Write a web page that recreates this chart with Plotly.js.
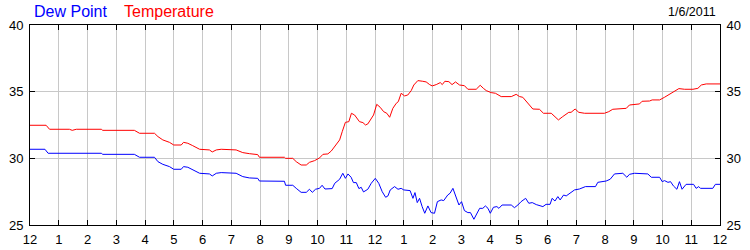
<!DOCTYPE html>
<html>
<head>
<meta charset="utf-8">
<script src="https://cdn.plot.ly/plotly-3.0.1.min.js"></script>
<style>
html,body{margin:0;padding:0;background:#fff;}
#chart{width:750px;height:250px;}
</style>
</head>
<body>
<div id="chart"></div>
<script>
// Hours after midnight, 1/6/2011
var tempHours = [0,0.56,0.68,1.37,1.47,1.61,2.48,2.53,3.63,3.81,4.33,4.45,4.62,4.85,5.00,5.26,5.34,5.49,5.66,5.90,6.24,6.34,6.48,6.65,7.17,7.40,7.63,7.92,7.98,
  8.85,8.89,9.14,9.26,9.43,9.61,9.72,9.90,10.07,10.19,10.36,10.48,10.63,10.77,10.86,10.97,11.09,11.18,11.29,11.46,11.58,11.67,11.75,11.87,11.95,
  12.06,12.18,12.30,12.41,12.51,12.62,12.74,12.81,12.91,13.03,13.14,13.26,13.35,13.49,13.66,13.78,13.90,13.99,14.13,14.27,14.34,14.43,14.57,14.68,
  14.80,14.94,15.11,15.23,15.52,15.66,15.77,15.87,16.04,16.19,16.39,16.74,16.91,17.03,17.14,17.32,17.49,17.72,17.86,18.13,18.24,18.38,18.53,18.74,
  18.82,18.96,19.09,19.29,19.98,20.13,20.27,20.74,20.85,21.03,21.20,21.29,21.55,21.64,21.90,22.07,22.30,22.42,22.57,22.77,23.06,23.23,23.35,23.52,24.0];
var tempValues = [32.48,32.48,32.18,32.18,32.1,32.18,32.18,32.1,32.1,31.88,31.88,31.63,31.38,31.2,31.0,31.0,31.2,31.13,30.95,30.68,30.63,30.48,30.63,30.68,30.63,30.43,30.35,30.28,30.08,
  30.08,30.0,30.0,29.75,29.5,29.5,29.7,29.83,30.03,30.3,30.33,30.55,31.0,31.38,32.0,32.7,32.75,33.38,33.25,32.75,32.68,32.5,32.58,33.0,33.25,
  34.05,33.83,33.5,33.38,33.08,33.75,34.13,34.25,34.88,34.68,34.75,35.08,35.5,35.83,35.78,35.73,35.53,35.43,35.53,35.68,35.53,35.78,35.75,35.53,
  35.73,35.5,35.45,35.18,35.18,35.48,35.25,35.08,34.93,34.88,34.63,34.63,34.8,34.63,34.58,34.13,33.7,33.68,33.38,33.38,33.13,32.88,33.13,33.45,
  33.45,33.7,33.45,33.38,33.38,33.5,33.68,33.75,34.0,34.05,34.08,34.28,34.3,34.38,34.38,34.58,34.88,35.05,35.23,35.18,35.18,35.25,35.5,35.58,35.58];

var dewHours = [0,0.52,0.63,1.37,1.47,1.61,2.48,2.53,3.63,3.81,4.33,4.45,4.62,4.85,5.00,5.26,5.34,5.49,5.66,5.90,6.24,6.34,6.48,6.65,7.17,7.40,7.63,7.92,7.98,
  8.85,8.89,9.14,9.26,9.43,9.61,9.72,9.82,9.93,10.07,10.16,10.26,10.42,10.51,10.60,10.77,10.88,10.97,11.06,11.17,11.25,11.35,11.44,11.52,11.60,11.75,11.87,
  12.01,12.13,12.25,12.37,12.45,12.53,12.68,12.80,12.91,13.00,13.14,13.22,13.32,13.39,13.47,13.55,13.64,13.73,13.84,13.95,14.07,14.17,14.30,14.39,
  14.53,14.61,14.71,14.82,14.92,15.01,15.11,15.23,15.32,15.44,15.55,15.64,15.75,15.84,15.93,16.01,16.12,16.24,16.31,16.42,16.74,16.85,16.97,17.08,
  17.24,17.35,17.47,17.61,17.84,17.95,18.09,18.16,18.26,18.36,18.44,18.56,18.65,18.77,18.94,19.11,19.32,19.67,19.75,20.04,20.18,20.33,20.62,20.76,
  20.85,21.03,21.32,21.49,21.61,21.90,21.99,22.07,22.19,22.28,22.38,22.50,22.59,22.68,22.82,23.08,23.17,23.26,23.32,23.75,23.84,24.0];
var dewValues = [30.68,30.68,30.38,30.38,30.33,30.38,30.38,30.3,30.3,30.08,30.08,29.75,29.55,29.38,29.18,29.18,29.38,29.33,29.13,28.88,28.83,28.68,28.88,28.93,28.88,28.63,28.53,28.5,28.3,
  28.28,27.98,27.98,27.75,27.45,27.45,27.68,27.45,27.68,27.75,27.98,27.7,27.75,27.73,28.13,28.43,28.88,28.5,28.83,28.58,28.18,28.18,27.73,27.83,27.48,27.68,28.13,
  28.5,28.13,27.5,27.08,27.18,27.63,27.88,27.68,27.75,27.63,27.63,27.58,27.0,27.43,26.68,27.0,26.38,25.88,26.43,25.93,25.88,26.75,26.88,26.83,
  27.25,27.38,27.75,27.13,26.5,26.75,26.08,25.93,25.93,25.43,25.83,26.25,26.25,26.43,26.25,25.88,26.33,26.38,26.25,26.5,26.5,26.3,26.5,26.75,
  27.0,26.63,26.68,26.53,26.38,26.55,26.55,27.0,26.8,27.13,26.88,27.25,27.18,27.38,27.63,27.7,27.88,27.88,28.2,28.3,28.43,28.83,28.88,28.58,
  28.8,28.88,28.83,28.83,28.58,28.58,28.25,28.33,28.2,28.25,27.93,27.68,28.25,27.68,28.05,28.05,27.75,27.88,27.75,27.75,28.05,28.05];

var hourTicks = [0,1,2,3,4,5,6,7,8,9,10,11,12,13,14,15,16,17,18,19,20,21,22,23,24];
var hourLabels = ['12','1','2','3','4','5','6','7','8','9','10','11','12','1','2','3','4','5','6','7','8','9','10','11','12'];
var yTicks = [25,30,35,40];
var dateLabel = '1/6/2011';

var FONT = 'Arial, "Liberation Sans", sans-serif';

var traces = [
  {x: dewHours, y: dewValues, type: 'scatter', mode: 'lines', name: 'Dew Point',
   line: {color: '#0000ff', width: 1}, hoverinfo: 'skip'},
  {x: tempHours, y: tempValues, type: 'scatter', mode: 'lines', name: 'Temperature',
   line: {color: '#ff0000', width: 1}, hoverinfo: 'skip'},
  {x: [0], y: [25], type: 'scatter', mode: 'markers', yaxis: 'y2', showlegend: false,
   marker: {opacity: 0}, hoverinfo: 'skip'}
];

var axisCommon = {
  showline: true, linecolor: '#000', linewidth: 1,
  ticks: 'inside', ticklen: 5, tickcolor: '#000', tickwidth: 1,
  zeroline: false, fixedrange: true,
  tickfont: {family: FONT, size: 13, color: '#000'}
};

var layout = {
  width: 750, height: 250,
  margin: {l: 30, r: 30, t: 25, b: 25, pad: 0},
  paper_bgcolor: '#fff', plot_bgcolor: '#fff',
  showlegend: false,
  xaxis: Object.assign({}, axisCommon, {
    range: [0, 24], tickmode: 'array', tickvals: hourTicks, ticktext: hourLabels,
    showgrid: true, gridcolor: '#c8c8c8', gridwidth: 1, mirror: 'ticks',
    ticklabelstandoff: 2
  }),
  yaxis: Object.assign({}, axisCommon, {
    range: [25, 40], tickmode: 'array', tickvals: yTicks,
    showgrid: true, gridcolor: '#c8c8c8', gridwidth: 1, mirror: 'ticks',
    ticklabelstandoff: 3
  }),
  yaxis2: Object.assign({}, axisCommon, {
    range: [25, 40], tickmode: 'array', tickvals: yTicks,
    overlaying: 'y', side: 'right', showgrid: false,
    ticklabelstandoff: 3
  }),
  annotations: [
    {text: 'Dew Point', xref: 'paper', yref: 'paper', x: 0, y: 1, xshift: 2, yshift: 3,
     xanchor: 'left', yanchor: 'bottom', showarrow: false,
     font: {family: FONT, size: 16, color: '#0000ff'}},
    {text: 'Temperature', xref: 'paper', yref: 'paper', x: 0, y: 1, xshift: 92, yshift: 3,
     xanchor: 'left', yanchor: 'bottom', showarrow: false,
     font: {family: FONT, size: 16, color: '#ff0000'}},
    {text: dateLabel, xref: 'paper', yref: 'paper', x: 1, y: 1, xshift: -2, yshift: 4,
     xanchor: 'right', yanchor: 'bottom', showarrow: false,
     font: {family: FONT, size: 12.5, color: '#000'}}
  ]
};

Plotly.newPlot('chart', traces, layout, {staticPlot: true, displayModeBar: false});
</script>
</body>
</html>
